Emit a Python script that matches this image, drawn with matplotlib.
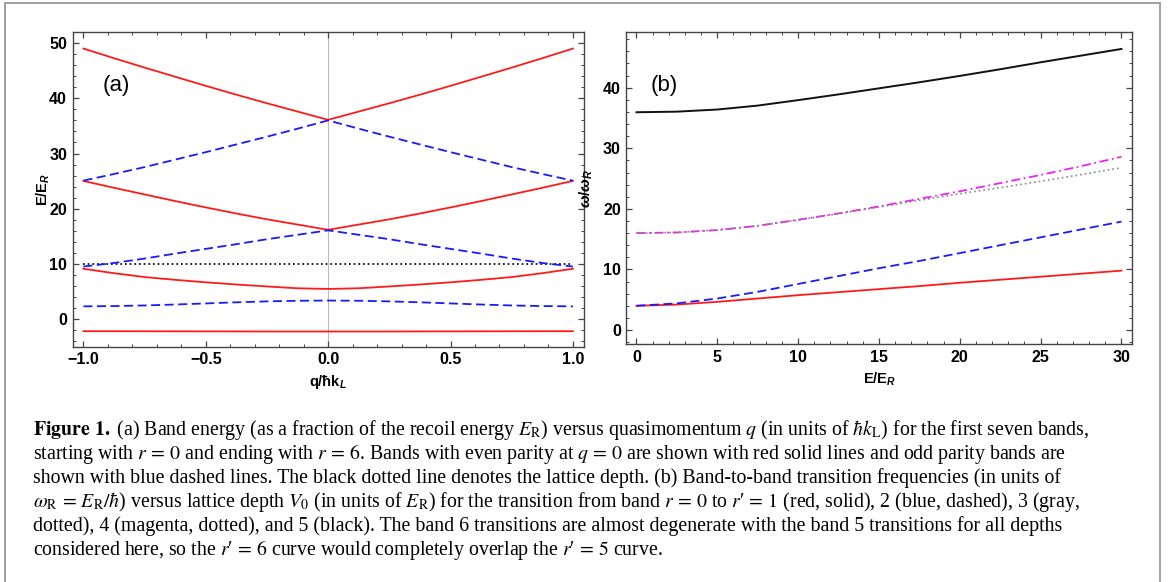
import matplotlib
matplotlib.use("Agg")
import matplotlib.pyplot as plt
from matplotlib.ticker import MultipleLocator
from matplotlib.patches import Rectangle

plt.rcParams['font.family'] = ['Liberation Sans', 'DejaVu Sans']
plt.rcParams['mathtext.fontset'] = 'custom'
plt.rcParams['mathtext.rm'] = 'Liberation Sans:bold'
plt.rcParams['mathtext.it'] = 'Liberation Sans:bold:italic'
plt.rcParams['mathtext.bf'] = 'Liberation Sans:bold'

# ---- panel (a): band energies vs quasimomentum (V0 = 10 E_R)
q_vals = [-1.0, -0.875, -0.75, -0.625, -0.5, -0.375, -0.25, -0.125, 0.0,
          0.125, 0.25, 0.375, 0.5, 0.625, 0.75, 0.875, 1.0]
band0 = [-2.15, -2.15, -2.16, -2.17, -2.18, -2.19, -2.2, -2.2, -2.2,
         -2.2, -2.2, -2.19, -2.18, -2.17, -2.16, -2.15, -2.15]
band1 = [2.35, 2.40, 2.51, 2.68, 2.88, 3.08, 3.25, 3.36, 3.40,
         3.36, 3.25, 3.08, 2.88, 2.68, 2.51, 2.40, 2.35]
band2 = [9.15, 8.35, 7.65, 7.15, 6.70, 6.30, 5.95, 5.62, 5.50,
         5.62, 5.95, 6.30, 6.70, 7.15, 7.65, 8.35, 9.15]
band3 = [9.55, 10.2, 11.0, 11.9, 12.75, 13.6, 14.5, 15.3, 16.1,
         15.3, 14.5, 13.6, 12.75, 11.9, 11.0, 10.2, 9.55]
band4 = [25.05, 23.8, 22.6, 21.4, 20.25, 19.15, 18.1, 17.15, 16.2,
         17.15, 18.1, 19.15, 20.25, 21.4, 22.6, 23.8, 25.05]
band5 = [25.1, 26.3, 27.55, 28.9, 30.25, 31.65, 33.05, 34.5, 36.0,
         34.5, 33.05, 31.65, 30.25, 28.9, 27.55, 26.3, 25.1]
band6 = [49.0, 47.25, 45.55, 43.9, 42.25, 40.65, 39.1, 37.6, 36.1,
         37.6, 39.1, 40.65, 42.25, 43.9, 45.55, 47.25, 49.0]
lattice_depth = 10.0

even_bands = [band0, band2, band4, band6]
odd_bands = [band1, band3, band5]

# ---- panel (b): transition frequencies vs lattice depth
depth = [0, 2.5, 5, 7.5, 10, 12.5, 15, 17.5, 20, 22.5, 25, 27.5, 30]
trans1 = [4.0, 4.2, 4.65, 5.2, 5.75, 6.25, 6.75, 7.25, 7.8, 8.3, 8.8, 9.3, 9.8]
trans2 = [4.0, 4.4, 5.2, 6.3, 7.6, 8.9, 10.2, 11.4, 12.7, 14.0, 15.3, 16.6, 17.9]
trans3 = [16.0, 16.1, 16.5, 17.2, 18.15, 19.2, 20.3, 21.4, 22.5, 23.5, 24.55, 25.65, 26.8]
trans4 = [16.0, 16.1, 16.5, 17.2, 18.2, 19.25, 20.4, 21.65, 22.9, 24.25, 25.6, 27.05, 28.6]
trans5 = [35.95, 36.05, 36.4, 37.05, 37.95, 38.9, 39.9, 40.9, 41.95, 43.05, 44.2, 45.3, 46.4]

RED = '#ff1a1a'
BLUE = '#1a1aff'
MAGENTA = '#ee22ee'
FRAME = '#444444'

fig = plt.figure(figsize=(11.68, 5.82), dpi=100)

ax1 = fig.add_axes([0.0622, 0.4046, 0.4375, 0.5399])
ax2 = fig.add_axes([0.5363, 0.4084, 0.4327, 0.5361])

ax1.axvline(0, color='#bbbbbb', lw=0.8, zorder=1)
for b in even_bands:
    ax1.plot(q_vals, b, color=RED, lw=1.3, zorder=3)
for b in odd_bands:
    ax1.plot(q_vals, b, color=BLUE, lw=1.3, dashes=(5, 2.5), zorder=3)
ax1.plot([q_vals[0], q_vals[-1]], [lattice_depth, lattice_depth], color='#222222',
         lw=1.4, dashes=(0.9, 1.5), zorder=2)
ax1.set_xlim(-1.044, 1.044)
ax1.set_ylim(-4.92, 51.94)
ax1.xaxis.set_major_locator(MultipleLocator(0.5))
ax1.xaxis.set_minor_locator(MultipleLocator(0.1))
ax1.yaxis.set_major_locator(MultipleLocator(10))
ax1.yaxis.set_minor_locator(MultipleLocator(2))
ax1.set_xlabel('q/ħk$_{L}$', fontsize=10.5, fontweight='bold', labelpad=4)
ax1.set_ylabel('E/E$_{R}$', fontsize=10.5, fontweight='bold', labelpad=-2)
ax1.text(0.059, 0.83, '(a)', transform=ax1.transAxes, fontsize=16, va='center')

ax2.plot(depth, trans1, color=RED, lw=1.3)
ax2.plot(depth, trans2, color=BLUE, lw=1.3, dashes=(5, 2.5))
ax2.plot(depth, trans4, color=MAGENTA, lw=1.3, dashes=(5, 2, 1, 2))
ax2.plot(depth, trans3, color='#888888', lw=1.2, dashes=(1, 1.8))
ax2.plot(depth, trans5, color='#111111', lw=1.4)
ax2.set_xlim(-0.62, 30.64)
ax2.set_ylim(-2.36, 49.15)
ax2.xaxis.set_major_locator(MultipleLocator(5))
ax2.xaxis.set_minor_locator(MultipleLocator(1))
ax2.yaxis.set_major_locator(MultipleLocator(10))
ax2.yaxis.set_minor_locator(MultipleLocator(2))
ax2.set_xlabel('E/E$_{R}$', fontsize=10.5, fontweight='bold', labelpad=4)
ax2.set_ylabel(r'$\omega/\omega_{R}$', fontsize=11, labelpad=6)
ax2.text(0.048, 0.83, '(b)', transform=ax2.transAxes, fontsize=16, va='center')

for ax in (ax1, ax2):
    for s in ax.spines.values():
        s.set_color(FRAME)
        s.set_linewidth(1.0)
    ax.tick_params(which='both', direction='in', top=True, right=True,
                   color=FRAME, labelsize=11.5, pad=4)
    ax.tick_params(which='major', length=4.5, width=0.9)
    ax.tick_params(which='minor', length=2.5, width=0.7)
    for lab in ax.get_xticklabels() + ax.get_yticklabels():
        lab.set_fontweight('bold')

# outer frame of the figure box
fig.patches.append(Rectangle((5 / 1168, -0.02), 1155 / 1168, 1.02 - 3 / 582,
                             transform=fig.transFigure, fill=False,
                             edgecolor='#999999', lw=1.3))

caption = [
    r'$\mathbf{Figure\ 1.}$ (a) Band energy (as a fraction of the recoil energy $E_{\rm R}$) versus quasimomentum $q$ (in units of $\hbar k_{\rm L}$) for the first seven bands,',
    r'starting with $r\,=\,0$ and ending with $r\,=\,6$. Bands with even parity at $q\,=\,0$ are shown with red solid lines and odd parity bands are',
    r'shown with blue dashed lines. The black dotted line denotes the lattice depth. (b) Band-to-band transition frequencies (in units of',
    "$\\omega_{\\rm R}\\,=\\,E_{\\rm R}/\\hbar$) versus lattice depth $V_0$ (in units of $E_{\\rm R}$) for the transition from band $r\\,=\\,0$ to $r$\u2032$\\,=\\,1$ (red, solid), 2 (blue, dashed), 3 (gray,",
    r'dotted), 4 (magenta, dotted), and 5 (black). The band 6 transitions are almost degenerate with the band 5 transitions for all depths',
    "considered here, so the $r$\u2032$\\,=\\,6$ curve would completely overlap the $r$\u2032$\\,=\\,5$ curve.",
]
for i, line in enumerate(caption):
    y = 1 - (434.5 + 24 * i) / 582
    fig.text(33 / 1168, y, line, fontfamily=['Liberation Serif', 'DejaVu Serif'],
             fontsize=14.3, math_fontfamily='stix', va='baseline', ha='left')

fig.savefig('out.png', dpi=100)
